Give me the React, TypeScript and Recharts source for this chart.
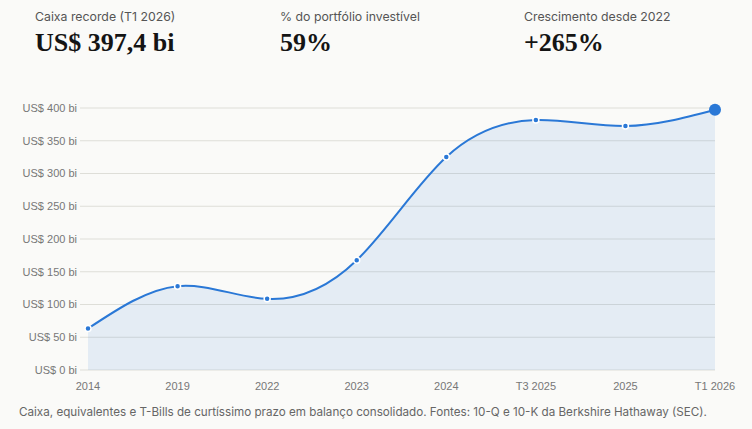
import React from 'react';
import { ComposedChart, Area, XAxis, YAxis, CartesianGrid } from 'recharts';

const periods = ['2014', '2019', '2022', '2023', '2024', 'T3 2025', '2025', 'T1 2026'];
const cashBi = [63.3, 128.0, 108.6, 167.6, 325.2, 381.7, 372.5, 397.4];
const yTicks = [0, 50, 100, 150, 200, 250, 300, 350, 400];

const statLabels = ['Caixa recorde (T1 2026)', '% do portfólio investível', 'Crescimento desde 2022'];
const statValues = ['US$ 397,4 bi', '59%', '+265%'];

const footnote =
  'Caixa, equivalentes e T-Bills de curtíssimo prazo em balanço consolidado. Fontes: 10-Q e 10-K da Berkshire Hathaway (SEC).';

const BLUE = '#2a78d6';
const GRID = '#deded8';
const SANS = 'Inter, Roboto, sans-serif';

const data = periods.map((p, i) => ({ period: p, cash: cashBi[i] }));

const statX = [35, 280, 524];

function Dot(props: any) {
  const { cx, cy, index } = props;
  if (index === cashBi.length - 1) {
    return <circle key={`d${index}`} cx={cx} cy={cy} r={6} fill={BLUE} />;
  }
  return <circle key={`d${index}`} cx={cx} cy={cy} r={3} fill={BLUE} stroke="#fff" strokeWidth={1.5} />;
}

export default function App() {
  return (
    <div style={{ position: 'relative', width: 752, height: 429, background: '#fafaf8', overflow: 'hidden' }}>
      <style>{`body{margin:0}`}</style>

      {statLabels.map((label, i) => (
        <div key={label} style={{ position: 'absolute', left: statX[i], top: 0 }}>
          <div style={{ position: 'absolute', top: 9, whiteSpace: 'nowrap', fontFamily: SANS, fontSize: 12.3, color: '#555' }}>
            {label}
          </div>
          <div
            style={{
              position: 'absolute',
              top: 28,
              whiteSpace: 'nowrap',
              fontFamily: '"Liberation Serif", serif',
              fontSize: 26,
              fontWeight: 700,
              color: '#141414',
            }}
          >
            {statValues[i]}
          </div>
        </div>
      ))}

      <div style={{ position: 'absolute', left: 0, top: 0 }}>
        <ComposedChart width={752} height={429} data={data} margin={{ top: 108, right: 37, bottom: 29, left: 0 }}>
          <CartesianGrid vertical={false} stroke={GRID} strokeWidth={1} />
          <XAxis
            dataKey="period"
            scale="point"
            padding={{ left: 0, right: 0 }}
            axisLine={false}
            tickLine={false}
            tickSize={6}
            tickMargin={6}
            height={30}
            interval={0}
            tick={{ fontFamily: '"Liberation Sans", Arial, sans-serif', fontSize: 11, fill: '#777' }}
          />
          <YAxis
            domain={[0, 400]}
            ticks={yTicks}
            width={88}
            axisLine={false}
            tickLine={{ stroke: GRID }}
            tickSize={8}
            tickMargin={3}
            tickFormatter={(v: number) => `US$ ${v} bi`}
            tick={{ fontFamily: '"Liberation Sans", Arial, sans-serif', fontSize: 11, fill: '#777' }}
          />
          <Area
            type="natural"
            dataKey="cash"
            stroke={BLUE}
            strokeWidth={2}
            fill={BLUE}
            fillOpacity={0.1}
            dot={Dot}
            activeDot={false}
            isAnimationActive={false}
          />
        </ComposedChart>
      </div>

      <div
        style={{
          position: 'absolute',
          left: 19,
          top: 405,
          whiteSpace: 'nowrap',
          fontFamily: SANS,
          fontSize: 11.65,
          color: '#666',
        }}
      >
        {footnote}
      </div>
    </div>
  );
}
